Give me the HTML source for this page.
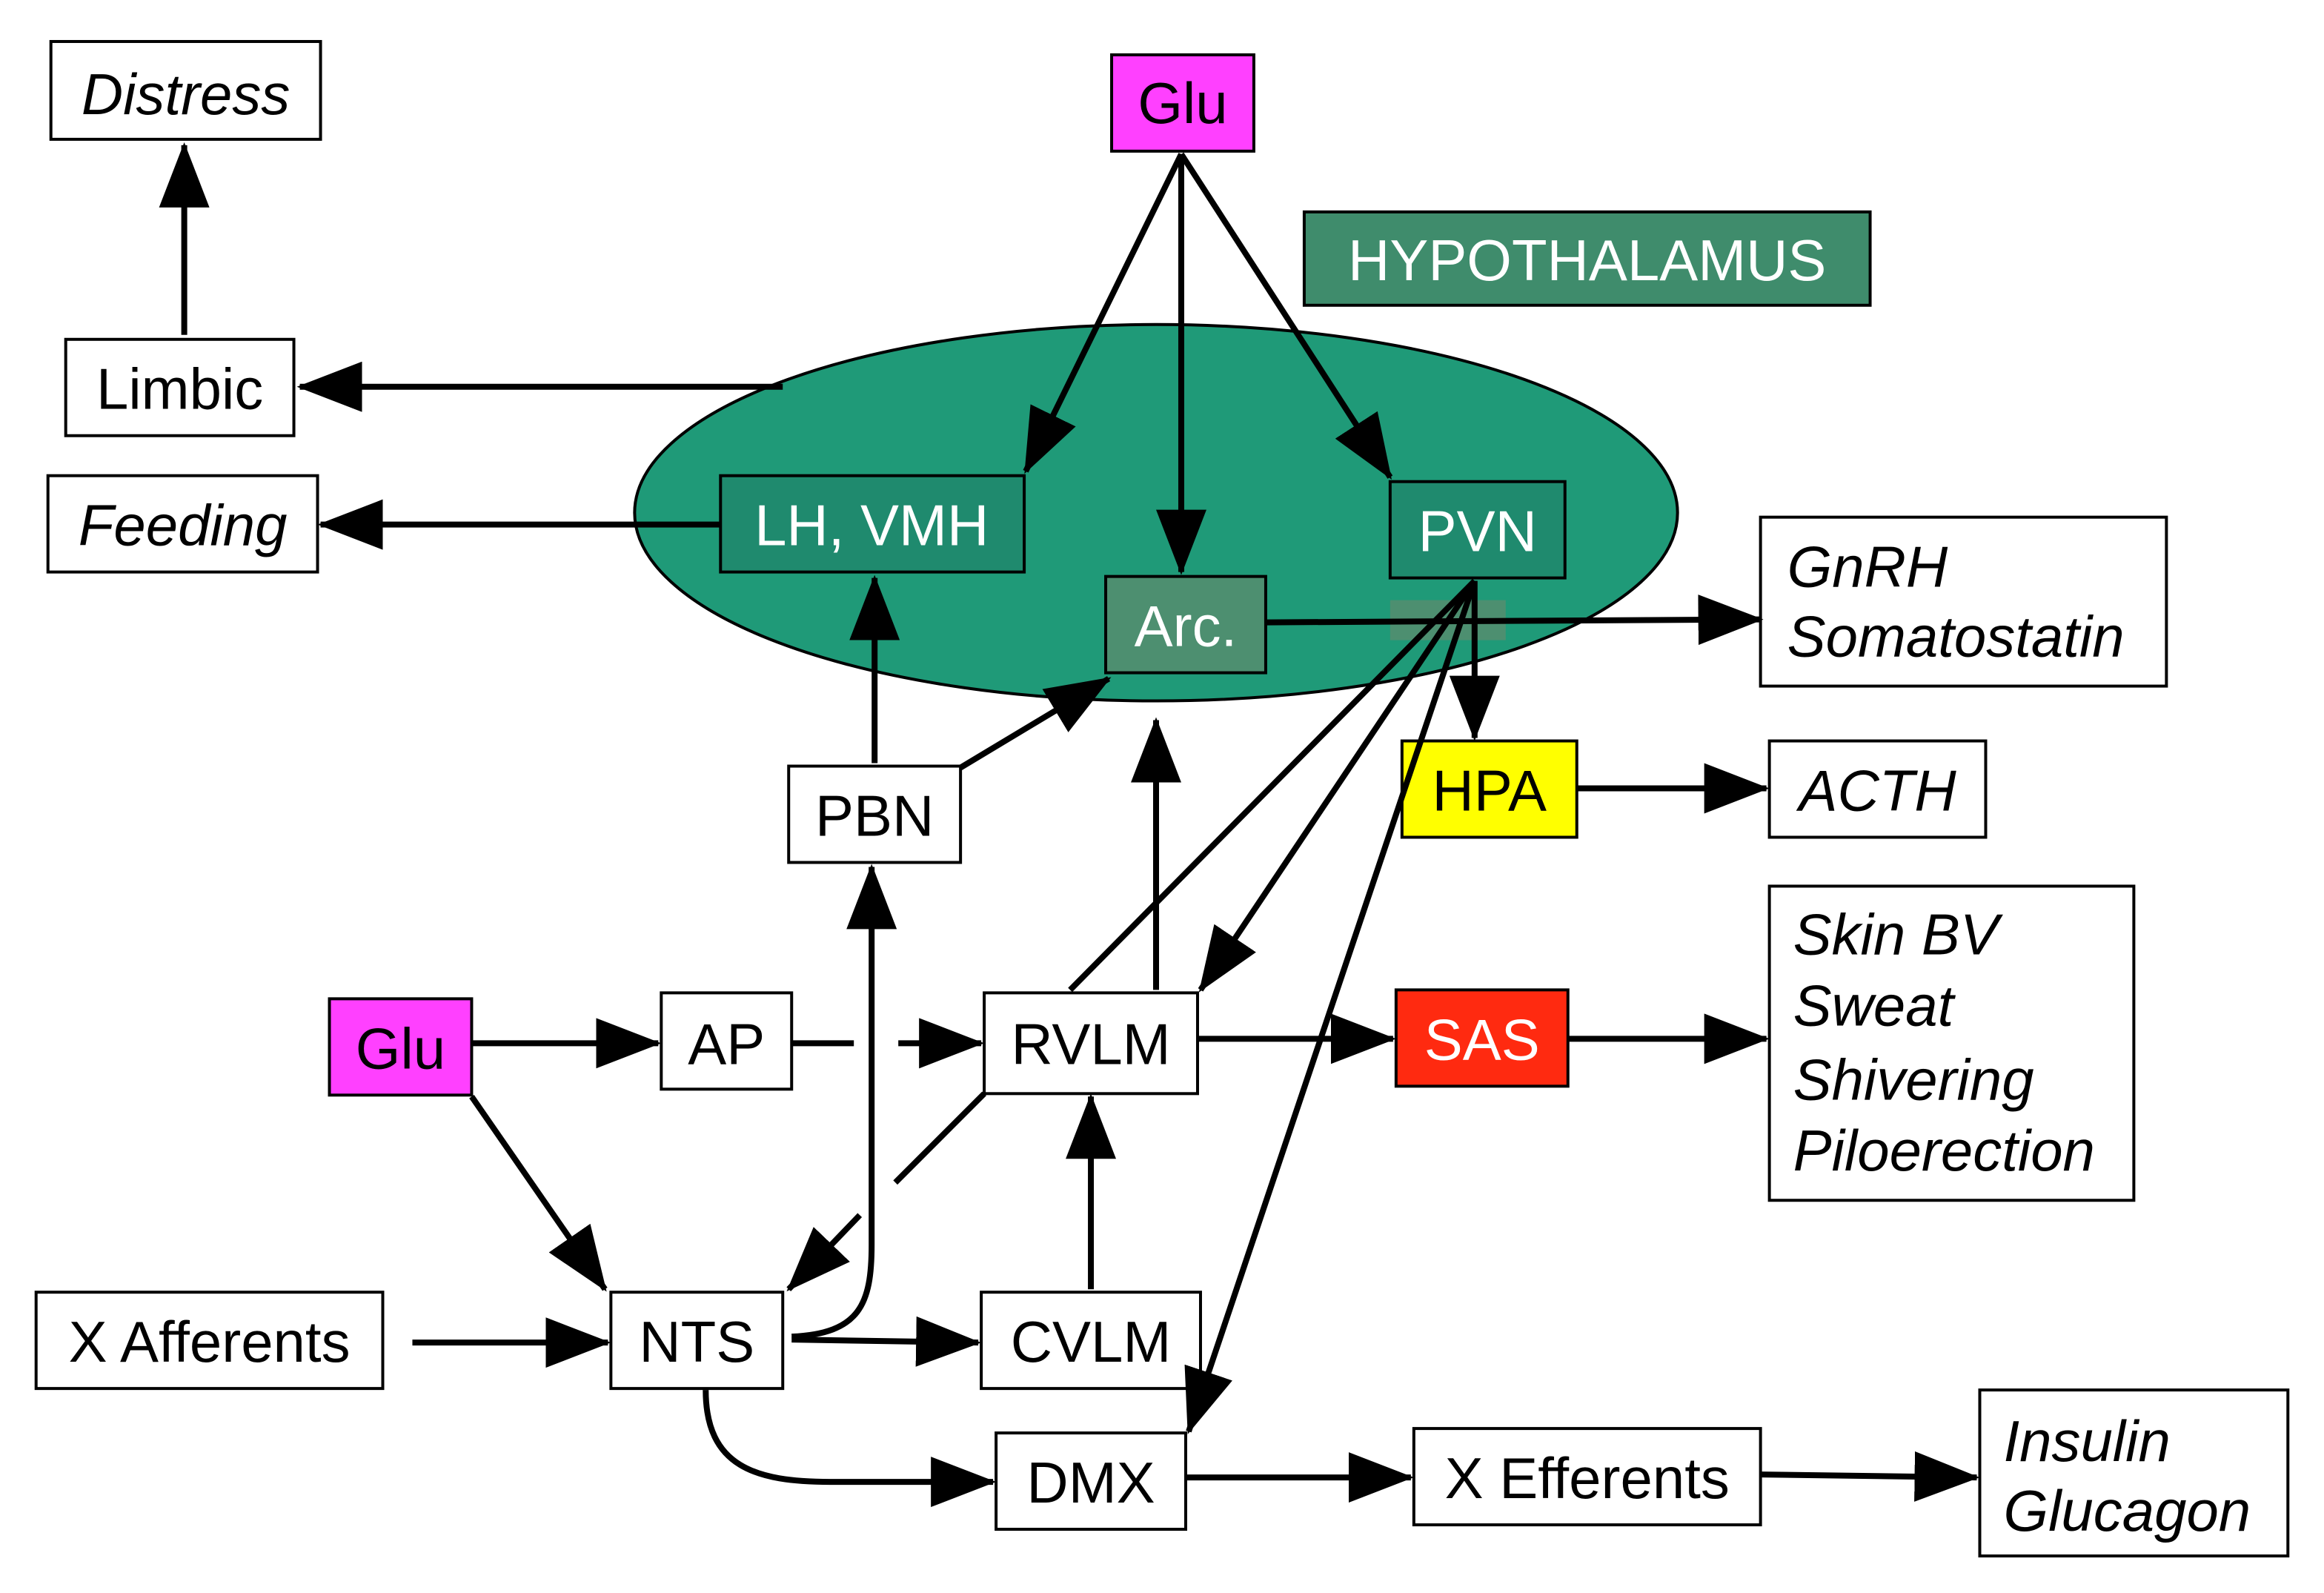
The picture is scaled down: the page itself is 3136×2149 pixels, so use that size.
<!DOCTYPE html>
<html><head><meta charset="utf-8"><style>
html,body{margin:0;padding:0;background:#fff;}
svg{display:block;}
text{font-family:"Liberation Sans",Arial,sans-serif;font-size:39px;}
.it{font-style:italic;}
</style></head><body>
<svg width="3136" height="2149" viewBox="0 0 1568 1075" xmlns="http://www.w3.org/2000/svg">
<defs>
<marker id="a" markerUnits="userSpaceOnUse" markerWidth="44" markerHeight="34" refX="42" refY="17" orient="auto">
<path d="M0,0 L44,17 L0,34 Z" fill="#000"/></marker>
</defs>
<g stroke="#000" stroke-width="2" fill="#fff">
<ellipse cx="780" cy="346" rx="352" ry="127" fill="#1f9a78"/>
<rect x="34" y="28" width="182" height="66"/>
<rect x="750" y="37" width="96" height="65" fill="#ff40ff"/>
<rect x="880" y="143" width="382" height="63" fill="#3f8c6c"/>
<rect x="44" y="229" width="154" height="65"/>
<rect x="486" y="321" width="205" height="65" fill="#1f8a6e"/>
<rect x="938" y="325" width="118" height="65" fill="#1f8a6e"/>
<rect x="746" y="389" width="108" height="65" fill="#4d8f70"/>
<rect x="32" y="321" width="182" height="65"/>
<rect x="1188" y="349" width="274" height="114"/>
<rect x="946" y="500" width="118" height="65" fill="#ffff00"/>
<rect x="1194" y="500" width="146" height="65"/>
<rect x="532" y="517" width="116" height="65"/>
<rect x="1194" y="598" width="246" height="212"/>
<rect x="222" y="674" width="96" height="65" fill="#ff40ff"/>
<rect x="446" y="670" width="88" height="65"/>
<rect x="664" y="670" width="144" height="68"/>
<rect x="942" y="668" width="116" height="65" fill="#ff2a10"/>
<rect x="24" y="872" width="234" height="65"/>
<rect x="412" y="872" width="116" height="65"/>
<rect x="662" y="872" width="148" height="65"/>
<rect x="672" y="967" width="128" height="65"/>
<rect x="954" y="964" width="234" height="65"/>
<rect x="1336" y="938" width="208" height="112"/>
</g>
<rect x="938" y="405" width="78" height="27" fill="#4d8f70"/>
<g stroke="#000" stroke-width="4" fill="none" marker-end="url(#a)">
<line x1="124" y1="226" x2="124" y2="98"/>
<line x1="528" y1="261" x2="202" y2="261"/>
<line x1="486" y1="354" x2="216" y2="354"/>
<line x1="797" y1="104" x2="692" y2="318"/>
<line x1="797" y1="104" x2="797" y2="386"/>
<line x1="797" y1="104" x2="938" y2="322"/>
<line x1="854" y1="420" x2="1188" y2="418"/>
<line x1="995" y1="392" x2="995" y2="498"/>
<line x1="995" y1="392" x2="810" y2="668"/>
<line x1="995" y1="392" x2="802" y2="966"/>
<line x1="1064" y1="532" x2="1192" y2="532"/>
<line x1="590" y1="515" x2="590" y2="390"/>
<line x1="648" y1="518" x2="748" y2="458"/>
<line x1="780" y1="668" x2="780" y2="486"/>
<line x1="318" y1="704" x2="444" y2="704"/>
<line x1="606" y1="704" x2="662" y2="704"/>
<line x1="808" y1="701" x2="940" y2="701"/>
<line x1="1058" y1="701" x2="1192" y2="701"/>
<line x1="318" y1="740" x2="408" y2="870"/>
<line x1="278" y1="906" x2="410" y2="906"/>
<line x1="534" y1="904" x2="660" y2="906"/>
<path d="M534,902 C580,900 588,880 588,840 L588,585"/>
<line x1="736" y1="870" x2="736" y2="740"/>
<path d="M476,938 C476,990 510,1000 560,1000 L670,1000"/>
<line x1="800" y1="997" x2="952" y2="997"/>
<line x1="1188" y1="995" x2="1334" y2="997"/>
<line x1="580" y1="820" x2="532" y2="870"/>
</g>
<g stroke="#000" stroke-width="4">
<line x1="534" y1="704" x2="576" y2="704"/>
<line x1="995" y1="392" x2="722" y2="668"/>
<line x1="664" y1="738" x2="604" y2="798"/>
</g>
<g text-anchor="middle">
<text x="125" y="77" class="it">Distress</text>
<text x="798" y="83">Glu</text>
<text x="1071" y="189" fill="#fff">HYPOTHALAMUS</text>
<text x="121" y="276">Limbic</text>
<text x="588" y="368" fill="#fff">LH, VMH</text>
<text x="997" y="372" fill="#fff">PVN</text>
<text x="800" y="436" fill="#fff">Arc.</text>
<text x="123" y="368" class="it">Feeding</text>
<text x="1005" y="547">HPA</text>
<text x="1267" y="547" class="it">ACTH</text>
<text x="590" y="564">PBN</text>
<text x="270" y="721">Glu</text>
<text x="490" y="718">AP</text>
<text x="736" y="718">RVLM</text>
<text x="1000" y="715" fill="#fff">SAS</text>
<text x="141" y="919">X Afferents</text>
<text x="470" y="919">NTS</text>
<text x="736" y="919">CVLM</text>
<text x="736" y="1014">DMX</text>
<text x="1071" y="1011">X Efferents</text>
</g>
<g>
<text x="1206" y="396" class="it">GnRH</text>
<text x="1206" y="443" class="it">Somatostatin</text>
<text x="1210" y="644" class="it">Skin BV</text>
<text x="1210" y="692" class="it">Sweat</text>
<text x="1210" y="742" class="it">Shivering</text>
<text x="1210" y="790" class="it">Piloerection</text>
<text x="1352" y="986" class="it">Insulin</text>
<text x="1352" y="1033" class="it">Glucagon</text>
</g>
</svg>
</body></html>
